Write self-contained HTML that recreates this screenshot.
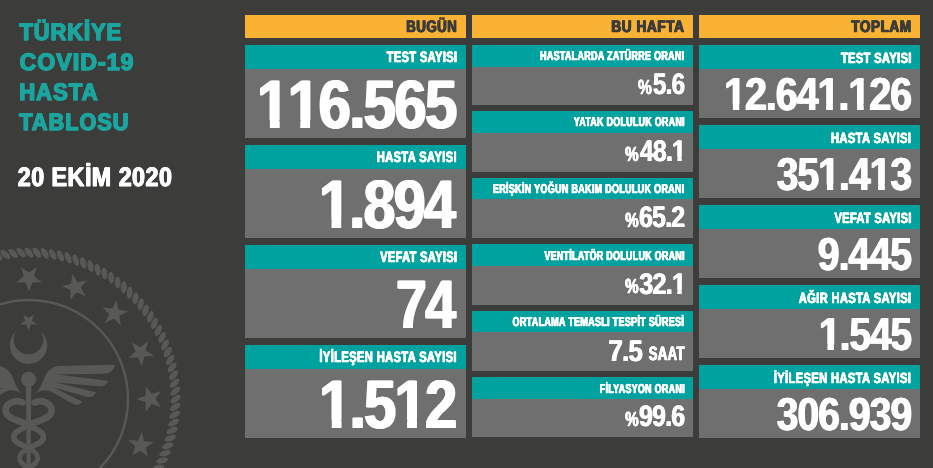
<!DOCTYPE html>
<html lang="tr"><head><meta charset="utf-8"><title>Türkiye COVID-19 Hasta Tablosu</title>
<style>
html,body{margin:0;padding:0}
body{width:933px;height:468px;overflow:hidden;background:#3c3c3b;position:relative;font-family:"Liberation Sans",Arial,Helvetica,sans-serif;font-weight:bold;text-rendering:geometricPrecision}
.b{position:absolute}
.or{background:#f9b233}.te{background:#00a29f}.gr{background:#706f6f}
.t{position:absolute;left:0;top:0;white-space:nowrap;line-height:1;transform-origin:0 0;font-weight:bold}
#emb{position:absolute;left:0;top:0}
.o{display:inline-block}
</style></head><body>
<svg id="emb" width="240" height="468" viewBox="0 0 240 468" fill="#585857" stroke="none">
<g><ellipse cx="29.0" cy="252.5" rx="6" ry="2.9" transform="rotate(52.0 29.0 252.5)"/><ellipse cx="36.9" cy="252.7" rx="6" ry="2.9" transform="rotate(55.1 36.9 252.7)"/><ellipse cx="44.8" cy="253.4" rx="6" ry="2.9" transform="rotate(58.2 44.8 253.4)"/><ellipse cx="52.7" cy="254.4" rx="6" ry="2.9" transform="rotate(61.3 52.7 254.4)"/><ellipse cx="60.5" cy="255.9" rx="6" ry="2.9" transform="rotate(64.4 60.5 255.9)"/><ellipse cx="68.2" cy="257.8" rx="6" ry="2.9" transform="rotate(67.5 68.2 257.8)"/><ellipse cx="75.8" cy="260.2" rx="6" ry="2.9" transform="rotate(70.6 75.8 260.2)"/><ellipse cx="83.2" cy="262.9" rx="6" ry="2.9" transform="rotate(73.7 83.2 262.9)"/><ellipse cx="90.5" cy="266.0" rx="6" ry="2.9" transform="rotate(76.8 90.5 266.0)"/><ellipse cx="97.6" cy="269.6" rx="6" ry="2.9" transform="rotate(79.9 97.6 269.6)"/><ellipse cx="104.5" cy="273.5" rx="6" ry="2.9" transform="rotate(83.0 104.5 273.5)"/><ellipse cx="111.2" cy="277.7" rx="6" ry="2.9" transform="rotate(86.1 111.2 277.7)"/><ellipse cx="117.7" cy="282.4" rx="6" ry="2.9" transform="rotate(89.2 117.7 282.4)"/><ellipse cx="123.8" cy="287.3" rx="6" ry="2.9" transform="rotate(92.3 123.8 287.3)"/><ellipse cx="129.7" cy="292.6" rx="6" ry="2.9" transform="rotate(95.4 129.7 292.6)"/><ellipse cx="135.4" cy="298.3" rx="6" ry="2.9" transform="rotate(98.6 135.4 298.3)"/><ellipse cx="140.7" cy="304.2" rx="6" ry="2.9" transform="rotate(101.7 140.7 304.2)"/><ellipse cx="145.6" cy="310.3" rx="6" ry="2.9" transform="rotate(104.8 145.6 310.3)"/><ellipse cx="150.3" cy="316.8" rx="6" ry="2.9" transform="rotate(107.9 150.3 316.8)"/><ellipse cx="154.5" cy="323.5" rx="6" ry="2.9" transform="rotate(111.0 154.5 323.5)"/><ellipse cx="158.4" cy="330.4" rx="6" ry="2.9" transform="rotate(114.1 158.4 330.4)"/><ellipse cx="162.0" cy="337.5" rx="6" ry="2.9" transform="rotate(117.2 162.0 337.5)"/><ellipse cx="165.1" cy="344.8" rx="6" ry="2.9" transform="rotate(120.3 165.1 344.8)"/><ellipse cx="167.8" cy="352.2" rx="6" ry="2.9" transform="rotate(123.4 167.8 352.2)"/><ellipse cx="170.2" cy="359.8" rx="6" ry="2.9" transform="rotate(126.5 170.2 359.8)"/><ellipse cx="172.1" cy="367.5" rx="6" ry="2.9" transform="rotate(129.6 172.1 367.5)"/><ellipse cx="173.6" cy="375.3" rx="6" ry="2.9" transform="rotate(132.7 173.6 375.3)"/><ellipse cx="174.6" cy="383.2" rx="6" ry="2.9" transform="rotate(135.8 174.6 383.2)"/><ellipse cx="175.3" cy="391.1" rx="6" ry="2.9" transform="rotate(138.9 175.3 391.1)"/><ellipse cx="175.5" cy="399.0" rx="6" ry="2.9" transform="rotate(142.0 175.5 399.0)"/><ellipse cx="175.3" cy="406.9" rx="6" ry="2.9" transform="rotate(145.1 175.3 406.9)"/><ellipse cx="174.6" cy="414.8" rx="6" ry="2.9" transform="rotate(148.2 174.6 414.8)"/><ellipse cx="173.6" cy="422.7" rx="6" ry="2.9" transform="rotate(151.3 173.6 422.7)"/><ellipse cx="172.1" cy="430.5" rx="6" ry="2.9" transform="rotate(154.4 172.1 430.5)"/><ellipse cx="170.2" cy="438.2" rx="6" ry="2.9" transform="rotate(157.5 170.2 438.2)"/><ellipse cx="167.8" cy="445.8" rx="6" ry="2.9" transform="rotate(160.6 167.8 445.8)"/><ellipse cx="165.1" cy="453.2" rx="6" ry="2.9" transform="rotate(163.7 165.1 453.2)"/><ellipse cx="162.0" cy="460.5" rx="6" ry="2.9" transform="rotate(166.8 162.0 460.5)"/><ellipse cx="158.4" cy="467.6" rx="6" ry="2.9" transform="rotate(169.9 158.4 467.6)"/><ellipse cx="154.5" cy="474.5" rx="6" ry="2.9" transform="rotate(173.0 154.5 474.5)"/><ellipse cx="-2.5" cy="255.9" rx="6" ry="2.9" transform="rotate(399.6 -2.5 255.9)"/><ellipse cx="5.3" cy="254.4" rx="6" ry="2.9" transform="rotate(402.7 5.3 254.4)"/><ellipse cx="13.2" cy="253.4" rx="6" ry="2.9" transform="rotate(405.8 13.2 253.4)"/><ellipse cx="21.1" cy="252.7" rx="6" ry="2.9" transform="rotate(408.9 21.1 252.7)"/></g>
<polygon points="29.0,291.5 25.8,282.4 16.2,282.2 23.9,276.3 21.1,267.1 29.0,272.6 36.9,267.1 34.1,276.3 41.8,282.2 32.2,282.4"/><polygon points="70.1,299.7 70.7,290.0 61.8,286.2 71.2,283.7 72.2,274.1 77.4,282.2 86.8,280.2 80.7,287.6 85.6,296.0 76.6,292.5"/><polygon points="105.0,323.0 109.2,314.3 102.5,307.3 112.1,308.6 116.7,300.1 118.4,309.6 127.9,311.3 119.4,315.9 120.7,325.5 113.7,318.8"/><polygon points="128.3,357.9 135.5,351.4 132.0,342.4 140.4,347.3 147.8,341.2 145.8,350.6 153.9,355.8 144.3,356.8 141.8,366.2 138.0,357.3"/><polygon points="136.5,399.0 145.6,395.8 145.8,386.2 151.7,393.9 160.9,391.1 155.4,399.0 160.9,406.9 151.7,404.1 145.8,411.8 145.6,402.2"/><polygon points="128.3,440.1 138.0,440.7 141.8,431.8 144.3,441.2 153.9,442.2 145.8,447.4 147.8,456.8 140.4,450.7 132.0,455.6 135.5,446.6"/>
<circle cx="29.0" cy="399.0" r="99" fill="none" stroke="#585857" stroke-width="2.4"/>
<path d="M15.9,331.4 A18.75,18.75 0 1 0 41.1,331.4 A14.9,14.9 0 1 1 15.9,331.4 Z"/>
<polygon points="28.5,330.7 26.4,324.6 19.9,324.5 25.1,320.6 23.2,314.4 28.5,318.1 33.8,314.4 31.9,320.6 37.1,324.5 30.6,324.6"/>
<circle cx="28.6" cy="379.3" r="7.6"/>
<path d="M25.9,384 L31.3,384 L30.6,470 L26.6,470 Z"/>
<path d="M35.5,393.3 C39,390.5 41.5,385 44.6,377.3 C47,371.5 51.5,367 58.5,366.1 L115,364.8 C113.8,370 110.5,373.4 104.5,373.8 L57,374.6 L108,380.8 C107,384.5 104,386.6 99.5,386.3 L56,382.4 L96.1,392.3 C94.5,396 91.3,397.9 87,396.8 L54,387.8 L82.2,401.7 C80.2,404.6 77.3,405.6 74,404.2 C66,400.5 58,395 50,391 C45,389.3 40,391 35.5,393.3 Z"/>
<g transform="translate(57.2 0) scale(-1 1)"><path d="M35.5,393.3 C39,390.5 41.5,385 44.6,377.3 C47,371.5 51.5,367 58.5,366.1 L115,364.8 C113.8,370 110.5,373.4 104.5,373.8 L57,374.6 L108,380.8 C107,384.5 104,386.6 99.5,386.3 L56,382.4 L96.1,392.3 C94.5,396 91.3,397.9 87,396.8 L54,387.8 L82.2,401.7 C80.2,404.6 77.3,405.6 74,404.2 C66,400.5 58,395 50,391 C45,389.3 40,391 35.5,393.3 Z"/></g>
<g fill="none" stroke="#585857" stroke-linecap="round"><path d="M22.5,402.6 C15,399 5.6,403 5.6,410.5 C5.6,419.5 21,420.5 28.6,425.3" stroke-width="6.6"/><path d="M28.6,425.3 C36,430 43.5,431 43.5,437 C43.5,443 35,444.5 28.6,448.3" stroke-width="5.6"/><path d="M28.6,448.3 C22.5,452 19.5,453.5 19.5,458 C19.5,463 24,465 28.6,468.5" stroke-width="4.8"/></g>
<g fill="none" stroke="#585857" stroke-linecap="round" transform="translate(57.2 0) scale(-1 1)"><path d="M22.5,402.6 C15,399 5.6,403 5.6,410.5 C5.6,419.5 21,420.5 28.6,425.3" stroke-width="6.6"/><path d="M28.6,425.3 C36,430 43.5,431 43.5,437 C43.5,443 35,444.5 28.6,448.3" stroke-width="5.6"/><path d="M28.6,448.3 C22.5,452 19.5,453.5 19.5,458 C19.5,463 24,465 28.6,468.5" stroke-width="4.8"/></g>
</svg>

<div class="b or" style="left:245px;top:15px;width:221px;height:23px"></div>
<div class="b or" style="left:472px;top:15px;width:221px;height:23px"></div>
<div class="b or" style="left:699px;top:15px;width:221px;height:23px"></div>
<div class="b te" style="left:245px;top:45px;width:221px;height:24px"></div>
<div class="b gr" style="left:245px;top:69px;width:221px;height:69px"></div>
<div class="b te" style="left:245px;top:145px;width:221px;height:24px"></div>
<div class="b gr" style="left:245px;top:169px;width:221px;height:69px"></div>
<div class="b te" style="left:245px;top:245px;width:221px;height:24px"></div>
<div class="b gr" style="left:245px;top:269px;width:221px;height:69px"></div>
<div class="b te" style="left:245px;top:345px;width:221px;height:24px"></div>
<div class="b gr" style="left:245px;top:369px;width:221px;height:69px"></div>
<div class="b te" style="left:472px;top:45px;width:221px;height:21.6px"></div>
<div class="b gr" style="left:472px;top:66.6px;width:221px;height:38.8px"></div>
<div class="b te" style="left:472px;top:111.4px;width:221px;height:21.6px"></div>
<div class="b gr" style="left:472px;top:133px;width:221px;height:38.8px"></div>
<div class="b te" style="left:472px;top:177.8px;width:221px;height:21.6px"></div>
<div class="b gr" style="left:472px;top:199.4px;width:221px;height:38.8px"></div>
<div class="b te" style="left:472px;top:244.2px;width:221px;height:21.6px"></div>
<div class="b gr" style="left:472px;top:265.8px;width:221px;height:38.8px"></div>
<div class="b te" style="left:472px;top:310.6px;width:221px;height:21.6px"></div>
<div class="b gr" style="left:472px;top:332.2px;width:221px;height:38.8px"></div>
<div class="b te" style="left:472px;top:377px;width:221px;height:21.6px"></div>
<div class="b gr" style="left:472px;top:398.6px;width:221px;height:38.8px"></div>
<div class="b te" style="left:699px;top:45px;width:221px;height:24px"></div>
<div class="b gr" style="left:699px;top:69px;width:221px;height:48.5px"></div>
<div class="b te" style="left:699px;top:125px;width:221px;height:24px"></div>
<div class="b gr" style="left:699px;top:149px;width:221px;height:48.5px"></div>
<div class="b te" style="left:699px;top:205px;width:221px;height:24px"></div>
<div class="b gr" style="left:699px;top:229px;width:221px;height:48.5px"></div>
<div class="b te" style="left:699px;top:285px;width:221px;height:24px"></div>
<div class="b gr" style="left:699px;top:309px;width:221px;height:48.5px"></div>
<div class="b te" style="left:699px;top:365px;width:221px;height:24px"></div>
<div class="b gr" style="left:699px;top:389px;width:221px;height:48.5px"></div>
<span class="t" style="font-size:23.71px;color:#1ba59f;transform:translate(19.50px,22.15px) scaleX(0.9189);letter-spacing:1.09px;-webkit-text-stroke:1.30px #1ba59f;text-shadow:0.71px 0 0 #1ba59f,-0.71px 0 0 #1ba59f">TÜRKİYE</span>
<span class="t" style="font-size:23.71px;color:#1ba59f;transform:translate(19.56px,51.95px) scaleX(0.9778);letter-spacing:1.02px;-webkit-text-stroke:1.30px #1ba59f;text-shadow:0.66px 0 0 #1ba59f,-0.66px 0 0 #1ba59f">COVID-19</span>
<span class="t" style="font-size:23.71px;color:#1ba59f;transform:translate(19.17px,81.75px) scaleX(0.9322);letter-spacing:1.07px;-webkit-text-stroke:1.30px #1ba59f;text-shadow:0.70px 0 0 #1ba59f,-0.70px 0 0 #1ba59f">HASTA</span>
<span class="t" style="font-size:23.71px;color:#1ba59f;transform:translate(19.24px,111.55px) scaleX(0.9147);letter-spacing:1.09px;-webkit-text-stroke:1.30px #1ba59f;text-shadow:0.71px 0 0 #1ba59f,-0.71px 0 0 #1ba59f">TABLOSU</span>
<span class="t" style="font-size:26.62px;color:#fff;transform:translate(17.82px,163.50px) scaleX(0.8731);letter-spacing:0.57px;-webkit-text-stroke:0.80px #fff;text-shadow:0.57px 0 0 #fff,-0.57px 0 0 #fff">20 EKİM 2020</span>
<span class="t" style="font-size:16.73px;color:#3c3c3b;transform:translate(406.25px,19.05px) scaleX(0.7847);letter-spacing:0.76px;-webkit-text-stroke:0.70px #3c3c3b;text-shadow:0.76px 0 0 #3c3c3b,-0.76px 0 0 #3c3c3b">BUGÜN</span>
<span class="t" style="font-size:16.73px;color:#3c3c3b;transform:translate(611.33px,19.05px) scaleX(0.8123);letter-spacing:0.74px;-webkit-text-stroke:0.70px #3c3c3b;text-shadow:0.74px 0 0 #3c3c3b,-0.74px 0 0 #3c3c3b">BU HAFTA</span>
<span class="t" style="font-size:16.73px;color:#3c3c3b;transform:translate(851.28px,19.05px) scaleX(0.8081);letter-spacing:0.74px;-webkit-text-stroke:0.70px #3c3c3b;text-shadow:0.74px 0 0 #3c3c3b,-0.74px 0 0 #3c3c3b">TOPLAM</span>
<span class="t" style="font-size:15.13px;color:#fff;transform:translate(386.70px,50.40px) scaleX(0.7340);letter-spacing:0.48px;-webkit-text-stroke:0.40px #fff;text-shadow:0.48px 0 0 #fff,-0.48px 0 0 #fff">TEST SAYISI</span>
<span class="t" style="font-size:68.80px;color:#fff;transform:translate(257.06px,70.70px) scaleX(0.8464);font-kerning:none;letter-spacing:-2.01px;text-shadow:1.18px 0 0 #fff,-1.18px 0 0 #fff"><span class="o" style="clip-path:polygon(-50px -50px,150px -50px,150px 49.38px,26.33px 49.38px,26.33px 150px,15.23px 150px,15.23px 49.38px,-50px 49.38px)">1</span><span class="o" style="clip-path:polygon(-50px -50px,150px -50px,150px 49.38px,26.33px 49.38px,26.33px 150px,15.23px 150px,15.23px 49.38px,-50px 49.38px)">1</span>6.565</span>
<span class="t" style="font-size:15.13px;color:#fff;transform:translate(376.70px,150.40px) scaleX(0.7399);letter-spacing:0.47px;-webkit-text-stroke:0.40px #fff;text-shadow:0.47px 0 0 #fff,-0.47px 0 0 #fff">HASTA SAYISI</span>
<span class="t" style="font-size:68.80px;color:#fff;transform:translate(319.11px,170.70px) scaleX(0.8342);font-kerning:none;letter-spacing:-2.04px;text-shadow:1.20px 0 0 #fff,-1.20px 0 0 #fff"><span class="o" style="clip-path:polygon(-50px -50px,150px -50px,150px 49.38px,26.35px 49.38px,26.35px 150px,15.21px 150px,15.21px 49.38px,-50px 49.38px)">1</span>.894</span>
<span class="t" style="font-size:15.13px;color:#fff;transform:translate(380.20px,250.40px) scaleX(0.7297);letter-spacing:0.48px;-webkit-text-stroke:0.40px #fff;text-shadow:0.48px 0 0 #fff,-0.48px 0 0 #fff">VEFAT SAYISI</span>
<span class="t" style="font-size:68.80px;color:#fff;transform:translate(396.07px,270.70px) scaleX(0.8047);font-kerning:none;letter-spacing:-2.11px;text-shadow:1.24px 0 0 #fff,-1.24px 0 0 #fff">74</span>
<span class="t" style="font-size:15.13px;color:#fff;transform:translate(319.40px,350.40px) scaleX(0.7401);letter-spacing:0.47px;-webkit-text-stroke:0.40px #fff;text-shadow:0.47px 0 0 #fff,-0.47px 0 0 #fff">İYİLEŞEN HASTA SAYISI</span>
<span class="t" style="font-size:68.80px;color:#fff;transform:translate(319.08px,370.70px) scaleX(0.8426);font-kerning:none;letter-spacing:-2.02px;text-shadow:1.19px 0 0 #fff,-1.19px 0 0 #fff"><span class="o" style="clip-path:polygon(-50px -50px,150px -50px,150px 49.38px,26.33px 49.38px,26.33px 150px,15.22px 150px,15.22px 49.38px,-50px 49.38px)">1</span>.5<span class="o" style="clip-path:polygon(-50px -50px,150px -50px,150px 49.38px,26.33px 49.38px,26.33px 150px,15.22px 150px,15.22px 49.38px,-50px 49.38px)">1</span>2</span>
<span class="t" style="font-size:14.84px;color:#fff;transform:translate(840.90px,51.50px) scaleX(0.7506);letter-spacing:0.47px;-webkit-text-stroke:0.40px #fff;text-shadow:0.47px 0 0 #fff,-0.47px 0 0 #fff">TEST SAYISI</span>
<span class="t" style="font-size:46.25px;color:#fff;transform:translate(724.08px,70.90px) scaleX(0.8552);font-kerning:none;letter-spacing:-1.29px;text-shadow:0.76px 0 0 #fff,-0.76px 0 0 #fff"><span class="o" style="clip-path:polygon(-50px -50px,150px -50px,150px 33.68px,17.55px 33.68px,17.55px 150px,10.38px 150px,10.38px 33.68px,-50px 33.68px)">1</span>2.64<span class="o" style="clip-path:polygon(-50px -50px,150px -50px,150px 33.68px,17.55px 33.68px,17.55px 150px,10.38px 150px,10.38px 33.68px,-50px 33.68px)">1</span>.<span class="o" style="clip-path:polygon(-50px -50px,150px -50px,150px 33.68px,17.55px 33.68px,17.55px 150px,10.38px 150px,10.38px 33.68px,-50px 33.68px)">1</span>26</span>
<span class="t" style="font-size:14.84px;color:#fff;transform:translate(830.90px,131.50px) scaleX(0.7563);letter-spacing:0.46px;-webkit-text-stroke:0.40px #fff;text-shadow:0.46px 0 0 #fff,-0.46px 0 0 #fff">HASTA SAYISI</span>
<span class="t" style="font-size:46.25px;color:#fff;transform:translate(776.64px,150.90px) scaleX(0.8499);font-kerning:none;letter-spacing:-1.29px;text-shadow:0.76px 0 0 #fff,-0.76px 0 0 #fff">35<span class="o" style="clip-path:polygon(-50px -50px,150px -50px,150px 33.68px,17.56px 33.68px,17.56px 150px,10.38px 150px,10.38px 33.68px,-50px 33.68px)">1</span>.4<span class="o" style="clip-path:polygon(-50px -50px,150px -50px,150px 33.68px,17.56px 33.68px,17.56px 150px,10.38px 150px,10.38px 33.68px,-50px 33.68px)">1</span>3</span>
<span class="t" style="font-size:14.84px;color:#fff;transform:translate(834.50px,211.50px) scaleX(0.7449);letter-spacing:0.47px;-webkit-text-stroke:0.40px #fff;text-shadow:0.47px 0 0 #fff,-0.47px 0 0 #fff">VEFAT SAYISI</span>
<span class="t" style="font-size:46.25px;color:#fff;transform:translate(817.72px,230.90px) scaleX(0.8538);font-kerning:none;letter-spacing:-1.29px;text-shadow:0.76px 0 0 #fff,-0.76px 0 0 #fff">9.445</span>
<span class="t" style="font-size:14.84px;color:#fff;transform:translate(798.83px,291.50px) scaleX(0.7503);letter-spacing:0.47px;-webkit-text-stroke:0.40px #fff;text-shadow:0.47px 0 0 #fff,-0.47px 0 0 #fff">AĞIR HASTA SAYISI</span>
<span class="t" style="font-size:46.25px;color:#fff;transform:translate(819.01px,310.90px) scaleX(0.8425);font-kerning:none;letter-spacing:-1.31px;text-shadow:0.77px 0 0 #fff,-0.77px 0 0 #fff"><span class="o" style="clip-path:polygon(-50px -50px,150px -50px,150px 33.68px,17.56px 33.68px,17.56px 150px,10.37px 150px,10.37px 33.68px,-50px 33.68px)">1</span>.545</span>
<span class="t" style="font-size:14.84px;color:#fff;transform:translate(773.80px,371.50px) scaleX(0.7545);letter-spacing:0.46px;-webkit-text-stroke:0.40px #fff;text-shadow:0.46px 0 0 #fff,-0.46px 0 0 #fff">İYİLEŞEN HASTA SAYISI</span>
<span class="t" style="font-size:46.25px;color:#fff;transform:translate(776.64px,390.90px) scaleX(0.8499);font-kerning:none;letter-spacing:-1.29px;text-shadow:0.76px 0 0 #fff,-0.76px 0 0 #fff">306.939</span>
<span class="t" style="font-size:12.95px;color:#fff;transform:translate(540.03px,49.90px) scaleX(0.6928);letter-spacing:0.43px;-webkit-text-stroke:0.40px #fff;text-shadow:0.51px 0 0 #fff,-0.51px 0 0 #fff">HASTALARDA ZATÜRRE ORANI</span>
<span class="t" style="font-size:12.95px;color:#fff;transform:translate(573.85px,116.30px) scaleX(0.6856);letter-spacing:0.44px;-webkit-text-stroke:0.40px #fff;text-shadow:0.51px 0 0 #fff,-0.51px 0 0 #fff">YATAK DOLULUK ORANI</span>
<span class="t" style="font-size:12.95px;color:#fff;transform:translate(492.93px,182.80px) scaleX(0.6954);letter-spacing:0.43px;-webkit-text-stroke:0.40px #fff;text-shadow:0.50px 0 0 #fff,-0.50px 0 0 #fff">ERİŞKİN YOĞUN BAKIM DOLULUK ORANI</span>
<span class="t" style="font-size:12.95px;color:#fff;transform:translate(544.39px,249.50px) scaleX(0.6874);letter-spacing:0.44px;-webkit-text-stroke:0.40px #fff;text-shadow:0.51px 0 0 #fff,-0.51px 0 0 #fff">VENTİLATÖR DOLULUK ORANI</span>
<span class="t" style="font-size:12.95px;color:#fff;transform:translate(512.51px,316.00px) scaleX(0.6963);letter-spacing:0.43px;-webkit-text-stroke:0.40px #fff;text-shadow:0.50px 0 0 #fff,-0.50px 0 0 #fff">ORTALAMA TEMASLI TESPİT SÜRESİ</span>
<span class="t" style="font-size:12.95px;color:#fff;transform:translate(599.73px,382.70px) scaleX(0.6895);letter-spacing:0.44px;-webkit-text-stroke:0.40px #fff;text-shadow:0.51px 0 0 #fff,-0.51px 0 0 #fff">FİLYASYON ORANI</span>
<span class="t" style="font-size:20.51px;color:#fff;transform:translate(637.97px,77.65px) scaleX(0.7587);font-kerning:none;-webkit-text-stroke:0.30px #fff;text-shadow:0.40px 0 0 #fff,-0.40px 0 0 #fff">%</span>
<span class="t" style="font-size:29.67px;color:#fff;transform:translate(652.87px,69.80px) scaleX(0.8191);font-kerning:none;letter-spacing:-0.92px;text-shadow:0.55px 0 0 #fff,-0.55px 0 0 #fff">5.6</span>
<span class="t" style="font-size:20.51px;color:#fff;transform:translate(625.17px,144.55px) scaleX(0.7364);font-kerning:none;-webkit-text-stroke:0.30px #fff;text-shadow:0.41px 0 0 #fff,-0.41px 0 0 #fff">%</span>
<span class="t" style="font-size:29.67px;color:#fff;transform:translate(639.85px,136.70px) scaleX(0.8361);font-kerning:none;letter-spacing:-0.90px;text-shadow:0.54px 0 0 #fff,-0.54px 0 0 #fff">48.<span class="o" style="clip-path:polygon(-50px -50px,150px -50px,150px 20.37px,11.18px 20.37px,11.18px 150px,6.74px 150px,6.74px 20.37px,-50px 20.37px)">1</span></span>
<span class="t" style="font-size:20.51px;color:#fff;transform:translate(625.17px,210.55px) scaleX(0.7364);font-kerning:none;-webkit-text-stroke:0.30px #fff;text-shadow:0.41px 0 0 #fff,-0.41px 0 0 #fff">%</span>
<span class="t" style="font-size:29.67px;color:#fff;transform:translate(639.07px,202.70px) scaleX(0.8372);font-kerning:none;letter-spacing:-0.90px;text-shadow:0.54px 0 0 #fff,-0.54px 0 0 #fff">65.2</span>
<span class="t" style="font-size:20.51px;color:#fff;transform:translate(625.17px,277.45px) scaleX(0.7364);font-kerning:none;-webkit-text-stroke:0.30px #fff;text-shadow:0.41px 0 0 #fff,-0.41px 0 0 #fff">%</span>
<span class="t" style="font-size:29.67px;color:#fff;transform:translate(639.26px,269.60px) scaleX(0.8474);font-kerning:none;letter-spacing:-0.89px;text-shadow:0.53px 0 0 #fff,-0.53px 0 0 #fff">32.<span class="o" style="clip-path:polygon(-50px -50px,150px -50px,150px 20.37px,11.18px 20.37px,11.18px 150px,6.74px 150px,6.74px 20.37px,-50px 20.37px)">1</span></span>
<span class="t" style="font-size:29.67px;color:#fff;transform:translate(608.55px,336.50px) scaleX(0.8666);font-kerning:none;letter-spacing:-0.87px;text-shadow:0.52px 0 0 #fff,-0.52px 0 0 #fff">7.5</span>
<span class="t" style="font-size:19.35px;color:#fff;transform:translate(648.63px,345.30px) scaleX(0.6822);letter-spacing:0.44px;-webkit-text-stroke:0.40px #fff;text-shadow:0.59px 0 0 #fff,-0.59px 0 0 #fff">SAAT</span>
<span class="t" style="font-size:20.51px;color:#fff;transform:translate(625.17px,409.95px) scaleX(0.7364);font-kerning:none;-webkit-text-stroke:0.30px #fff;text-shadow:0.41px 0 0 #fff,-0.41px 0 0 #fff">%</span>
<span class="t" style="font-size:29.67px;color:#fff;transform:translate(639.07px,402.10px) scaleX(0.8372);font-kerning:none;letter-spacing:-0.90px;text-shadow:0.54px 0 0 #fff,-0.54px 0 0 #fff">99.6</span>
</body></html>
